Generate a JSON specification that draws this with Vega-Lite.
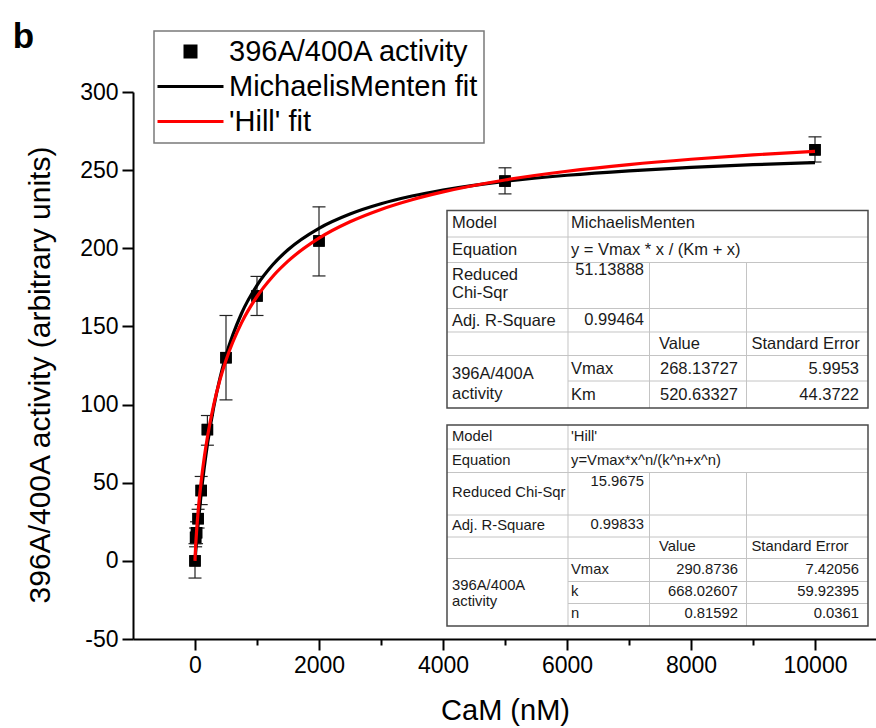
{
  "$schema": "https://vega.github.io/schema/vega-lite/v6.json",
  "width": 744,
  "height": 547,
  "autosize": {"type": "none"},
  "padding": {"left": 133, "top": 92, "right": 0, "bottom": 89},
  "background": "white",
  "title": {"text": "b", "anchor": "start", "frame": "bounds", "fontSize": 35, "fontWeight": "bold", "font": "Liberation Sans", "color": "black", "baseline": "alphabetic", "offset": 0, "dx": -13, "dy": 53},
  "config": {
    "font": "Liberation Sans",
    "view": {"stroke": null},
    "axis": {"grid": false, "domainColor": "black", "domainWidth": 2, "tickColor": "black", "tickWidth": 2, "labelFontSize": 23, "labelColor": "black", "titleFontSize": 29, "titleFontWeight": "normal", "titleColor": "black", "labelFont": "Liberation Sans", "titleFont": "Liberation Sans"},
    "legend": {"padding": 6, "strokeColor": "#7a7a7a", "strokeWidth": 1.5, "fillColor": "white", "labelFontSize": 29, "labelFont": "Liberation Sans", "labelColor": "black", "labelLimit": 500, "labelOffset": 24, "symbolOffset": 16, "symbolSize": 121, "symbolStrokeWidth": 3, "rowPadding": 5}
  },
  "datasets": {
    "obs": [
      {"x": 0, "y": 0, "lo": -11, "hi": 11, "series": "396A/400A activity"},
      {"x": 10, "y": 15, "lo": 9, "hi": 21, "series": "396A/400A activity"},
      {"x": 25, "y": 18, "lo": 11, "hi": 25, "series": "396A/400A activity"},
      {"x": 50, "y": 27, "lo": 21, "hi": 33, "series": "396A/400A activity"},
      {"x": 100, "y": 45, "lo": 36, "hi": 54, "series": "396A/400A activity"},
      {"x": 200, "y": 84, "lo": 74, "hi": 93, "series": "396A/400A activity"},
      {"x": 500, "y": 130, "lo": 103, "hi": 157, "series": "396A/400A activity"},
      {"x": 1000, "y": 169.5, "lo": 157, "hi": 182, "series": "396A/400A activity"},
      {"x": 2000, "y": 204.7, "lo": 182.3, "hi": 226.5, "series": "396A/400A activity"},
      {"x": 5000, "y": 243, "lo": 234.8, "hi": 251.5, "series": "396A/400A activity"},
      {"x": 10000, "y": 263, "lo": 255.2, "hi": 271.3, "series": "396A/400A activity"}
    ],
    "mm": [
      {"x": 0, "y": 0, "series": "MichaelisMenten fit"},
      {"x": 1, "y": 0.514, "series": "MichaelisMenten fit"},
      {"x": 2, "y": 1.027, "series": "MichaelisMenten fit"},
      {"x": 5, "y": 2.55, "series": "MichaelisMenten fit"},
      {"x": 10, "y": 5.05, "series": "MichaelisMenten fit"},
      {"x": 25, "y": 12.29, "series": "MichaelisMenten fit"},
      {"x": 50, "y": 23.49, "series": "MichaelisMenten fit"},
      {"x": 100, "y": 43.2, "series": "MichaelisMenten fit"},
      {"x": 150, "y": 59.97, "series": "MichaelisMenten fit"},
      {"x": 200, "y": 74.42, "series": "MichaelisMenten fit"},
      {"x": 300, "y": 98.02, "series": "MichaelisMenten fit"},
      {"x": 400, "y": 116.5, "series": "MichaelisMenten fit"},
      {"x": 500, "y": 131.36, "series": "MichaelisMenten fit"},
      {"x": 750, "y": 158.27, "series": "MichaelisMenten fit"},
      {"x": 1000, "y": 176.33, "series": "MichaelisMenten fit"},
      {"x": 1250, "y": 189.29, "series": "MichaelisMenten fit"},
      {"x": 1500, "y": 199.05, "series": "MichaelisMenten fit"},
      {"x": 2000, "y": 212.76, "series": "MichaelisMenten fit"},
      {"x": 2500, "y": 221.92, "series": "MichaelisMenten fit"},
      {"x": 3000, "y": 228.48, "series": "MichaelisMenten fit"},
      {"x": 3500, "y": 233.42, "series": "MichaelisMenten fit"},
      {"x": 4000, "y": 237.26, "series": "MichaelisMenten fit"},
      {"x": 5000, "y": 242.85, "series": "MichaelisMenten fit"},
      {"x": 6000, "y": 246.73, "series": "MichaelisMenten fit"},
      {"x": 7000, "y": 249.58, "series": "MichaelisMenten fit"},
      {"x": 8000, "y": 251.75, "series": "MichaelisMenten fit"},
      {"x": 9000, "y": 253.47, "series": "MichaelisMenten fit"},
      {"x": 10000, "y": 254.87, "series": "MichaelisMenten fit"}
    ],
    "hill": [
      {"x": 0, "y": 0, "series": "'Hill' fit"},
      {"x": 1, "y": 1.43, "series": "'Hill' fit"},
      {"x": 2, "y": 2.52, "series": "'Hill' fit"},
      {"x": 5, "y": 5.26, "series": "'Hill' fit"},
      {"x": 10, "y": 9.14, "series": "'Hill' fit"},
      {"x": 25, "y": 18.65, "series": "'Hill' fit"},
      {"x": 50, "y": 31.31, "series": "'Hill' fit"},
      {"x": 100, "y": 50.95, "series": "'Hill' fit"},
      {"x": 150, "y": 66.37, "series": "'Hill' fit"},
      {"x": 200, "y": 79.15, "series": "'Hill' fit"},
      {"x": 300, "y": 99.56, "series": "'Hill' fit"},
      {"x": 400, "y": 115.44, "series": "'Hill' fit"},
      {"x": 500, "y": 128.33, "series": "'Hill' fit"},
      {"x": 750, "y": 152.3, "series": "'Hill' fit"},
      {"x": 1000, "y": 169.16, "series": "'Hill' fit"},
      {"x": 1250, "y": 181.83, "series": "'Hill' fit"},
      {"x": 1500, "y": 191.76, "series": "'Hill' fit"},
      {"x": 2000, "y": 206.48, "series": "'Hill' fit"},
      {"x": 2500, "y": 216.96, "series": "'Hill' fit"},
      {"x": 3000, "y": 224.86, "series": "'Hill' fit"},
      {"x": 3500, "y": 231.06, "series": "'Hill' fit"},
      {"x": 4000, "y": 236.06, "series": "'Hill' fit"},
      {"x": 5000, "y": 243.71, "series": "'Hill' fit"},
      {"x": 6000, "y": 249.29, "series": "'Hill' fit"},
      {"x": 7000, "y": 253.58, "series": "'Hill' fit"},
      {"x": 8000, "y": 256.98, "series": "'Hill' fit"},
      {"x": 9000, "y": 259.75, "series": "'Hill' fit"},
      {"x": 10000, "y": 262.07, "series": "'Hill' fit"}
    ],
    "boxes": [
      {"x": 4064.5, "x2": 10854.8, "y": 97.81, "y2": 224.18},
      {"x": 4064.5, "x2": 10854.8, "y": -41.68, "y2": 86.93}
    ],
    "lines": [
      {"x": 4064.5, "x2": 10854.8, "y": 207.22, "y2": 207.22},
      {"x": 4064.5, "x2": 10854.8, "y": 190.9, "y2": 190.9},
      {"x": 4064.5, "x2": 10854.8, "y": 161.47, "y2": 161.47},
      {"x": 4064.5, "x2": 10854.8, "y": 146.44, "y2": 146.44},
      {"x": 4064.5, "x2": 10854.8, "y": 131.4, "y2": 131.4},
      {"x": 6016.1, "x2": 10854.8, "y": 115.08, "y2": 115.08},
      {"x": 6016.1, "x2": 6016.1, "y": 224.18, "y2": 97.81},
      {"x": 7330.6, "x2": 7330.6, "y": 190.9, "y2": 97.81},
      {"x": 8895.2, "x2": 8895.2, "y": 190.9, "y2": 97.81},
      {"x": 4064.5, "x2": 10854.8, "y": 71.57, "y2": 71.57},
      {"x": 4064.5, "x2": 10854.8, "y": 56.54, "y2": 56.54},
      {"x": 4064.5, "x2": 10854.8, "y": 29.34, "y2": 29.34},
      {"x": 4064.5, "x2": 10854.8, "y": 15.26, "y2": 15.26},
      {"x": 4064.5, "x2": 10854.8, "y": 1.51, "y2": 1.51},
      {"x": 6016.1, "x2": 10854.8, "y": -13.21, "y2": -13.21},
      {"x": 6016.1, "x2": 10854.8, "y": -27.29, "y2": -27.29},
      {"x": 6016.1, "x2": 6016.1, "y": 86.93, "y2": -41.68},
      {"x": 7330.6, "x2": 7330.6, "y": 56.54, "y2": -41.68},
      {"x": 8895.2, "x2": 8895.2, "y": 56.54, "y2": -41.68}
    ],
    "cells": [
      {"t": 1, "a": "L", "x": 4145.2, "y": 215.86, "s": "Model"},
      {"t": 1, "a": "L", "x": 6064.5, "y": 215.86, "s": "MichaelisMenten"},
      {"t": 1, "a": "L", "x": 4145.2, "y": 199.22, "s": "Equation"},
      {"t": 1, "a": "L", "x": 6064.5, "y": 199.22, "s": "y = Vmax * x / (Km + x)"},
      {"t": 1, "a": "L", "x": 4145.2, "y": 182.91, "s": "Reduced"},
      {"t": 1, "a": "L", "x": 4145.2, "y": 171.39, "s": "Chi-Sqr"},
      {"t": 1, "a": "L", "x": 4145.2, "y": 153.79, "s": "Adj. R-Square"},
      {"t": 1, "a": "L", "x": 7483.9, "y": 138.76, "s": "Value"},
      {"t": 1, "a": "L", "x": 8975.8, "y": 138.76, "s": "Standard Error"},
      {"t": 1, "a": "L", "x": 4145.2, "y": 119.88, "s": "396A/400A"},
      {"t": 1, "a": "L", "x": 4145.2, "y": 107.08, "s": "activity"},
      {"t": 1, "a": "L", "x": 6064.5, "y": 123.08, "s": "Vmax"},
      {"t": 1, "a": "L", "x": 6064.5, "y": 106.44, "s": "Km"},
      {"t": 1, "a": "R", "x": 7241.9, "y": 186.11, "s": "51.13888"},
      {"t": 1, "a": "R", "x": 7241.9, "y": 154.43, "s": "0.99464"},
      {"t": 1, "a": "R", "x": 8758.1, "y": 123.08, "s": "268.13727"},
      {"t": 1, "a": "R", "x": 8758.1, "y": 106.44, "s": "520.63327"},
      {"t": 1, "a": "R", "x": 10709.7, "y": 123.08, "s": "5.9953"},
      {"t": 1, "a": "R", "x": 10709.7, "y": 106.44, "s": "44.3722"},
      {"t": 2, "a": "L", "x": 4145.2, "y": 79.25, "s": "Model"},
      {"t": 2, "a": "L", "x": 6064.5, "y": 79.25, "s": "'Hill'"},
      {"t": 2, "a": "L", "x": 4145.2, "y": 63.89, "s": "Equation"},
      {"t": 2, "a": "L", "x": 6064.5, "y": 63.89, "s": "y=Vmax*x^n/(k^n+x^n)"},
      {"t": 2, "a": "L", "x": 4145.2, "y": 43.1, "s": "Reduced Chi-Sqr"},
      {"t": 2, "a": "L", "x": 4145.2, "y": 22.3, "s": "Adj. R-Square"},
      {"t": 2, "a": "L", "x": 7483.9, "y": 8.55, "s": "Value"},
      {"t": 2, "a": "L", "x": 8975.8, "y": 8.55, "s": "Standard Error"},
      {"t": 2, "a": "L", "x": 4145.2, "y": -15.9, "s": "396A/400A"},
      {"t": 2, "a": "L", "x": 4145.2, "y": -26.4, "s": "activity"},
      {"t": 2, "a": "L", "x": 6064.5, "y": -5.85, "s": "Vmax"},
      {"t": 2, "a": "L", "x": 6064.5, "y": -19.93, "s": "k"},
      {"t": 2, "a": "L", "x": 6064.5, "y": -34.0, "s": "n"},
      {"t": 2, "a": "R", "x": 7241.9, "y": 50.46, "s": "15.9675"},
      {"t": 2, "a": "R", "x": 7241.9, "y": 23.26, "s": "0.99833"},
      {"t": 2, "a": "R", "x": 8758.1, "y": -5.85, "s": "290.8736"},
      {"t": 2, "a": "R", "x": 8758.1, "y": -19.93, "s": "668.02607"},
      {"t": 2, "a": "R", "x": 8758.1, "y": -34.0, "s": "0.81592"},
      {"t": 2, "a": "R", "x": 10709.7, "y": -5.85, "s": "7.42056"},
      {"t": 2, "a": "R", "x": 10709.7, "y": -19.93, "s": "59.92395"},
      {"t": 2, "a": "R", "x": 10709.7, "y": -34.0, "s": "0.0361"}
    ]
  },
  "layer": [
    {
      "data": {"name": "obs"},
      "mark": {"type": "point", "shape": "square", "filled": true, "size": 132, "opacity": 1},
      "encoding": {
        "x": {"field": "x", "type": "quantitative", "scale": {"domain": [-1000, 11000], "nice": false, "zero": false},
          "axis": {"title": "CaM (nM)", "values": [0, 1000, 2000, 3000, 4000, 5000, 6000, 7000, 8000, 9000, 10000],
            "labelExpr": "datum.value % 2000 === 0 ? toString(datum.value) : ''",
            "tickSize": {"condition": {"test": "datum.value % 2000 === 0", "value": 11}, "value": 6},
            "labelPadding": 4, "titlePadding": 19}},
        "y": {"field": "y", "type": "quantitative", "scale": {"domain": [-50, 300], "nice": false, "zero": false},
          "axis": {"title": "396A/400A activity (arbitrary units)", "values": [-50, -25, 0, 25, 50, 75, 100, 125, 150, 175, 200, 225, 250, 275, 300],
            "labelExpr": "datum.value % 50 === 0 ? toString(datum.value) : ''",
            "tickSize": {"condition": {"test": "datum.value % 50 === 0", "value": 11}, "value": 6},
            "labelPadding": 4, "titlePadding": 24, "titleY": 282.5, "titleFontSize": 30}},
        "color": {"field": "series", "type": "nominal",
          "scale": {"domain": ["396A/400A activity", "MichaelisMenten fit", "'Hill' fit"], "range": ["black", "black", "#ff0000"]},
          "legend": {"title": null, "orient": "none", "legendX": 21, "legendY": -61,
            "encode": {"symbols": {"update": {
              "fill": {"signal": "datum.value === '396A/400A activity' ? 'black' : 'transparent'"},
              "stroke": {"signal": "indexof(datum.value, 'Hill') >= 0 ? '#ff0000' : 'black'"},
              "strokeWidth": {"signal": "datum.value === '396A/400A activity' ? 0 : 3"},
              "opacity": {"value": 1}}}}}},
        "shape": {"field": "series", "type": "nominal",
          "scale": {"domain": ["396A/400A activity", "MichaelisMenten fit", "'Hill' fit"], "range": ["square", "M-6,0L6,0", "M-6,0L6,0"]},
          "legend": {"title": null, "orient": "none", "legendX": 21, "legendY": -61}}
      }
    },
    {
      "data": {"name": "boxes"},
      "mark": {"type": "rect", "fill": "white", "strokeWidth": 0},
      "encoding": {
        "x": {"field": "x", "type": "quantitative"},
        "x2": {"field": "x2"},
        "y": {"field": "y", "type": "quantitative"},
        "y2": {"field": "y2"}
      }
    },
    {
      "data": {"name": "lines"},
      "mark": {"type": "rule", "color": "#c4c4c4", "strokeWidth": 1},
      "encoding": {
        "x": {"field": "x", "type": "quantitative"},
        "x2": {"field": "x2"},
        "y": {"field": "y", "type": "quantitative"},
        "y2": {"field": "y2"}
      }
    },
    {
      "data": {"name": "boxes"},
      "mark": {"type": "rect", "fill": null, "fillOpacity": 0, "stroke": "#4a4a4a", "strokeWidth": 1.5},
      "encoding": {
        "x": {"field": "x", "type": "quantitative"},
        "x2": {"field": "x2"},
        "y": {"field": "y", "type": "quantitative"},
        "y2": {"field": "y2"}
      }
    },
    {
      "data": {"name": "cells"},
      "transform": [{"filter": "datum.t === 1 && datum.a === 'L'"}],
      "mark": {"type": "text", "align": "left", "baseline": "middle", "fontSize": 16.5, "color": "#1a1a1a"},
      "encoding": {
        "x": {"field": "x", "type": "quantitative"},
        "y": {"field": "y", "type": "quantitative"},
        "text": {"field": "s"}
      }
    },
    {
      "data": {"name": "cells"},
      "transform": [{"filter": "datum.t === 1 && datum.a === 'R'"}],
      "mark": {"type": "text", "align": "right", "baseline": "middle", "fontSize": 16.5, "color": "#1a1a1a"},
      "encoding": {
        "x": {"field": "x", "type": "quantitative"},
        "y": {"field": "y", "type": "quantitative"},
        "text": {"field": "s"}
      }
    },
    {
      "data": {"name": "cells"},
      "transform": [{"filter": "datum.t === 2 && datum.a === 'L'"}],
      "mark": {"type": "text", "align": "left", "baseline": "middle", "fontSize": 14.8, "color": "#1a1a1a"},
      "encoding": {
        "x": {"field": "x", "type": "quantitative"},
        "y": {"field": "y", "type": "quantitative"},
        "text": {"field": "s"}
      }
    },
    {
      "data": {"name": "cells"},
      "transform": [{"filter": "datum.t === 2 && datum.a === 'R'"}],
      "mark": {"type": "text", "align": "right", "baseline": "middle", "fontSize": 14.8, "color": "#1a1a1a"},
      "encoding": {
        "x": {"field": "x", "type": "quantitative"},
        "y": {"field": "y", "type": "quantitative"},
        "text": {"field": "s"}
      }
    },
    {
      "data": {"name": "obs"},
      "mark": {"type": "rule", "color": "#222222", "strokeWidth": 1.2},
      "encoding": {
        "x": {"field": "x", "type": "quantitative"},
        "y": {"field": "lo", "type": "quantitative"},
        "y2": {"field": "hi"}
      }
    },
    {
      "data": {"name": "obs"},
      "mark": {"type": "tick", "orient": "horizontal", "color": "#222222", "size": 13, "thickness": 1.2, "opacity": 1},
      "encoding": {
        "x": {"field": "x", "type": "quantitative"},
        "y": {"field": "lo", "type": "quantitative"}
      }
    },
    {
      "data": {"name": "obs"},
      "mark": {"type": "tick", "orient": "horizontal", "color": "#222222", "size": 13, "thickness": 1.2, "opacity": 1},
      "encoding": {
        "x": {"field": "x", "type": "quantitative"},
        "y": {"field": "hi", "type": "quantitative"}
      }
    },
    {
      "data": {"name": "obs"},
      "mark": {"type": "point", "shape": "square", "filled": true, "size": 132, "opacity": 1, "color": "black"},
      "encoding": {
        "x": {"field": "x", "type": "quantitative"},
        "y": {"field": "y", "type": "quantitative"}
      }
    },
    {
      "data": {"name": "mm"},
      "mark": {"type": "line", "strokeWidth": 3.2, "interpolate": "monotone"},
      "encoding": {
        "x": {"field": "x", "type": "quantitative"},
        "y": {"field": "y", "type": "quantitative"},
        "color": {"field": "series", "type": "nominal"}
      }
    },
    {
      "data": {"name": "hill"},
      "mark": {"type": "line", "strokeWidth": 3.2, "interpolate": "monotone"},
      "encoding": {
        "x": {"field": "x", "type": "quantitative"},
        "y": {"field": "y", "type": "quantitative"},
        "color": {"field": "series", "type": "nominal"}
      }
    }
  ]
}
